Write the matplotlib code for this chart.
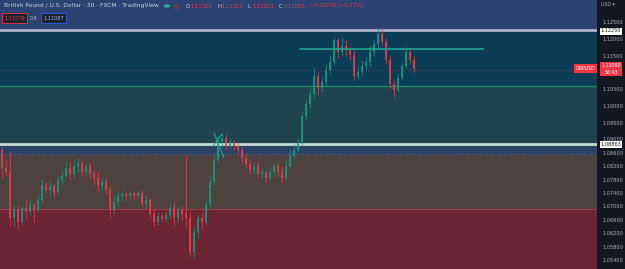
import matplotlib.pyplot as plt
import numpy as np

# GBPUSD 30m candles
opens = [1.0869, 1.0815, 1.0803, 1.0666, 1.0690, 1.0654, 1.0696, 1.0684, 1.0705, 1.0690,
         1.0720, 1.0764, 1.0749, 1.0761, 1.0743, 1.0779, 1.0791, 1.0815, 1.0797, 1.0821,
         1.0830, 1.0803, 1.0821, 1.0797, 1.0785, 1.0761, 1.0773, 1.0749, 1.0690, 1.0714,
         1.0731, 1.0737, 1.0731, 1.0740, 1.0731, 1.0740, 1.0708, 1.0720, 1.0678, 1.0654,
         1.0672, 1.0663, 1.0675, 1.0696, 1.0666, 1.0690, 1.0678, 1.0666, 1.0565, 1.0624,
         1.0666, 1.0654, 1.0708, 1.0773, 1.0839, 1.0892, 1.0904, 1.0881, 1.0892, 1.0881,
         1.0869, 1.0845, 1.0827, 1.0809, 1.0821, 1.0797, 1.0803, 1.0785, 1.0803, 1.0821,
         1.0803, 1.0785, 1.0821, 1.0851, 1.0869, 1.0892, 1.0970, 1.1006, 1.1035, 1.1089,
         1.1053, 1.1071, 1.1107, 1.1131, 1.1196, 1.1161, 1.1178, 1.1167, 1.1152, 1.1089,
         1.1101, 1.1119, 1.1131, 1.1161, 1.1184, 1.1214, 1.1190, 1.1137, 1.1065, 1.1047,
         1.1083, 1.1119, 1.1161, 1.1137]
highs = [1.0875, 1.0839, 1.0863, 1.0705, 1.0705, 1.0702, 1.0720, 1.0720, 1.0711, 1.0731,
         1.0779, 1.0773, 1.0776, 1.0770, 1.0791, 1.0809, 1.0833, 1.0833, 1.0839, 1.0845,
         1.0839, 1.0830, 1.0830, 1.0809, 1.0803, 1.0785, 1.0785, 1.0761, 1.0731, 1.0743,
         1.0749, 1.0743, 1.0749, 1.0746, 1.0749, 1.0749, 1.0731, 1.0725, 1.0696, 1.0684,
         1.0681, 1.0684, 1.0708, 1.0714, 1.0702, 1.0702, 1.0851, 1.0684, 1.0642, 1.0678,
         1.0684, 1.0720, 1.0791, 1.0857, 1.0910, 1.0919, 1.0916, 1.0904, 1.0898, 1.0892,
         1.0875, 1.0857, 1.0839, 1.0830, 1.0833, 1.0815, 1.0809, 1.0815, 1.0830, 1.0833,
         1.0821, 1.0839, 1.0869, 1.0887, 1.0904, 1.0982, 1.1018, 1.1053, 1.1113, 1.1101,
         1.1083, 1.1125, 1.1149, 1.1205, 1.1202, 1.1202, 1.1196, 1.1176, 1.1167, 1.1119,
         1.1137, 1.1146, 1.1181, 1.1196, 1.1232, 1.1235, 1.1202, 1.1149, 1.1077, 1.1095,
         1.1131, 1.1176, 1.1173, 1.1149]
lows = [1.0785, 1.0791, 1.0642, 1.0642, 1.0636, 1.0645, 1.0666, 1.0675, 1.0654, 1.0684,
        1.0711, 1.0740, 1.0734, 1.0728, 1.0737, 1.0767, 1.0785, 1.0779, 1.0785, 1.0803,
        1.0791, 1.0794, 1.0785, 1.0764, 1.0743, 1.0749, 1.0737, 1.0666, 1.0678, 1.0702,
        1.0720, 1.0720, 1.0722, 1.0720, 1.0725, 1.0702, 1.0696, 1.0666, 1.0642, 1.0645,
        1.0654, 1.0654, 1.0666, 1.0642, 1.0654, 1.0660, 1.0636, 1.0553, 1.0547, 1.0606,
        1.0636, 1.0645, 1.0696, 1.0764, 1.0833, 1.0875, 1.0869, 1.0872, 1.0869, 1.0857,
        1.0833, 1.0815, 1.0797, 1.0797, 1.0785, 1.0785, 1.0773, 1.0779, 1.0791, 1.0791,
        1.0773, 1.0779, 1.0815, 1.0845, 1.0863, 1.0884, 1.0958, 1.0994, 1.1024, 1.1035,
        1.1041, 1.1059, 1.1095, 1.1125, 1.1143, 1.1149, 1.1149, 1.1137, 1.1077, 1.1080,
        1.1089, 1.1107, 1.1119, 1.1149, 1.1173, 1.1181, 1.1125, 1.1053, 1.1027, 1.1041,
        1.1077, 1.1113, 1.1125, 1.1101]
closes = [1.0815, 1.0803, 1.0666, 1.0690, 1.0654, 1.0696, 1.0684, 1.0705, 1.0690, 1.0720,
          1.0764, 1.0749, 1.0761, 1.0743, 1.0779, 1.0791, 1.0815, 1.0797, 1.0821, 1.0830,
          1.0803, 1.0821, 1.0797, 1.0785, 1.0761, 1.0773, 1.0749, 1.0690, 1.0714, 1.0731,
          1.0737, 1.0731, 1.0740, 1.0731, 1.0740, 1.0708, 1.0720, 1.0678, 1.0654, 1.0672,
          1.0663, 1.0675, 1.0696, 1.0666, 1.0690, 1.0678, 1.0666, 1.0565, 1.0624, 1.0666,
          1.0654, 1.0708, 1.0773, 1.0839, 1.0892, 1.0904, 1.0881, 1.0892, 1.0881, 1.0869,
          1.0845, 1.0827, 1.0809, 1.0821, 1.0797, 1.0803, 1.0785, 1.0803, 1.0821, 1.0803,
          1.0785, 1.0821, 1.0851, 1.0869, 1.0892, 1.0970, 1.1006, 1.1035, 1.1089, 1.1053,
          1.1071, 1.1107, 1.1131, 1.1196, 1.1161, 1.1178, 1.1167, 1.1152, 1.1089, 1.1101,
          1.1119, 1.1131, 1.1161, 1.1184, 1.1214, 1.1190, 1.1137, 1.1065, 1.1047, 1.1083,
          1.1119, 1.1161, 1.1137, 1.1110]

# zones: (top, bottom, colour)
zone_tops = [1.1316, 1.1225, 1.1059, 1.08863, 1.0857, 1.0692]
zone_bottoms = [1.1225, 1.1059, 1.08863, 1.0857, 1.0692, 1.0500]
zone_colors = ['#2b4272', '#0c3d56', '#1f4450', '#2b4262', '#4e423f', '#6a2432']

tick_prices = [1.125, 1.12, 1.115, 1.105, 1.10, 1.095, 1.09, 1.086, 1.082, 1.078,
               1.074, 1.070, 1.066, 1.062, 1.058, 1.054]
last_price = 1.1108
resistance = 1.1170

W, H = 625, 269
fig = plt.figure(figsize=(W / 100, H / 100), dpi=100, facecolor='#131722')
ax = fig.add_axes([0, 0, 597 / W, 1])
ax.set_xlim(-0.5, 148.75)
ax.set_ylim(1.05131, 1.13156)

for top, bot, col in zip(zone_tops, zone_bottoms, zone_colors):
    ax.axhspan(bot, top, color=col, lw=0, zorder=0)

ax.axhline(1.1225, color='#a9afc8', lw=2, zorder=1)
ax.axhline(1.1059, color='#1f8e70', lw=0.9, zorder=1)
ax.axhline(1.08863, color='#c6dbd2', lw=2, zorder=1)
ax.axhline(1.0857, color='#2f5fc0', lw=1, ls=(0, (1, 1.5)), zorder=1)
ax.axhline(1.0692, color='#a13a48', lw=0.8, zorder=1)
ax.axhline(last_price, color='#7a3a4c', lw=0.6, ls=(0, (1, 2)), zorder=1)

idx = np.arange(len(closes))
for i in idx:
    o, h, l, c = opens[i], highs[i], lows[i], closes[i]
    col = '#1f9683' if c >= o else '#e0424e'
    ax.vlines(i, l, h, color=col, lw=0.6, alpha=0.85, zorder=3)
    body = max(abs(c - o), 0.00015)
    ax.bar(i, body, bottom=min(o, c), width=0.7, color=col, alpha=0.85, lw=0, zorder=3)

# drawings
ax.plot([74.5, 120.3], [resistance, resistance], color='#22ab94', lw=1.1, zorder=4)
ax.plot([53.0, 55.5], [1.0919, 1.0845], color='#22ab94', lw=0.8, zorder=4)
ax.plot([52.8, 55.0], [1.0880, 1.0916], color='#22ab94', lw=0.8, zorder=4)

ax.set_xticks([])
ax.yaxis.tick_right()
ax.set_yticks(tick_prices)
ax.set_yticklabels([f'{p:.5f}' for p in tick_prices])
ax.tick_params(axis='y', length=0, pad=4, labelsize=3.6, labelcolor='#b2b5be')
for s in ax.spines.values():
    s.set_visible(False)


def px(x, y):
    return x / W, 1 - y / H


# header
fig.text(*px(4, 6), 'British Pound / U.S. Dollar · 30 · FXCM · TradingView',
         color='#d1d4dc', fontsize=4.3, va='center')
fig.patches.append(plt.Circle(px(167, 6), 0.004, transform=fig.transFigure,
                              color='#22ab94'))
fig.text(*px(174, 6), '■', color='#7a3a44', fontsize=3.5, va='center')
ohlc = [('O', '1.11321'), ('H', '1.11327'), ('L', '1.11023'), ('C', '1.11083')]
x0 = 186
for lab, val in ohlc:
    fig.text(*px(x0, 6), lab, color='#d1d4dc', fontsize=3.8, va='center')
    fig.text(*px(x0 + 4, 6), val, color='#f23645', fontsize=3.8, va='center')
    x0 += 31
fig.text(*px(x0, 6), '−0.00238 (−0.21%)', color='#f23645', fontsize=3.8, va='center')

fig.text(*px(14.5, 18), '1.11079', color='#f23645', fontsize=3.6, ha='center', va='center',
         bbox=dict(boxstyle='square,pad=0.5', fc='#1e222d', ec='#f23645', lw=0.6))
fig.text(*px(34, 18), '0.8', color='#b2b5be', fontsize=3.4, ha='center', va='center')
fig.text(*px(53.5, 18), '1.11087', color='#90bff9', fontsize=3.6, ha='center', va='center',
         bbox=dict(boxstyle='square,pad=0.5', fc='#1e222d', ec='#2962ff', lw=0.6))

# price scale labels
fig.text(*px(601, 4), 'USD ▾', color='#b2b5be', fontsize=3.4, va='center')
fig.text(*px(611, 31), '1.12250', color='#131722', fontsize=3.6, ha='center', va='center',
         bbox=dict(boxstyle='square,pad=0.2', fc='#ffffff', ec='none'), zorder=5)
fig.text(*px(611, 144.5), '1.08863', color='#131722', fontsize=3.6, ha='center', va='center',
         bbox=dict(boxstyle='square,pad=0.15', fc='#ffffff', ec='none'), zorder=5)
fig.text(*px(585.5, 68.5), 'GBPUSD', color='#ffffff', fontsize=3.4, ha='center', va='center',
         bbox=dict(boxstyle='square,pad=0.35', fc='#f23645', ec='none'))
fig.text(*px(611, 69), '1.11080\n56:43', color='#ffffff', fontsize=3.4, ha='center',
         va='center', linespacing=1.3,
         bbox=dict(boxstyle='square,pad=0.35', fc='#f23645', ec='none'))

fig.savefig('out.png', dpi=100, facecolor=fig.get_facecolor())
